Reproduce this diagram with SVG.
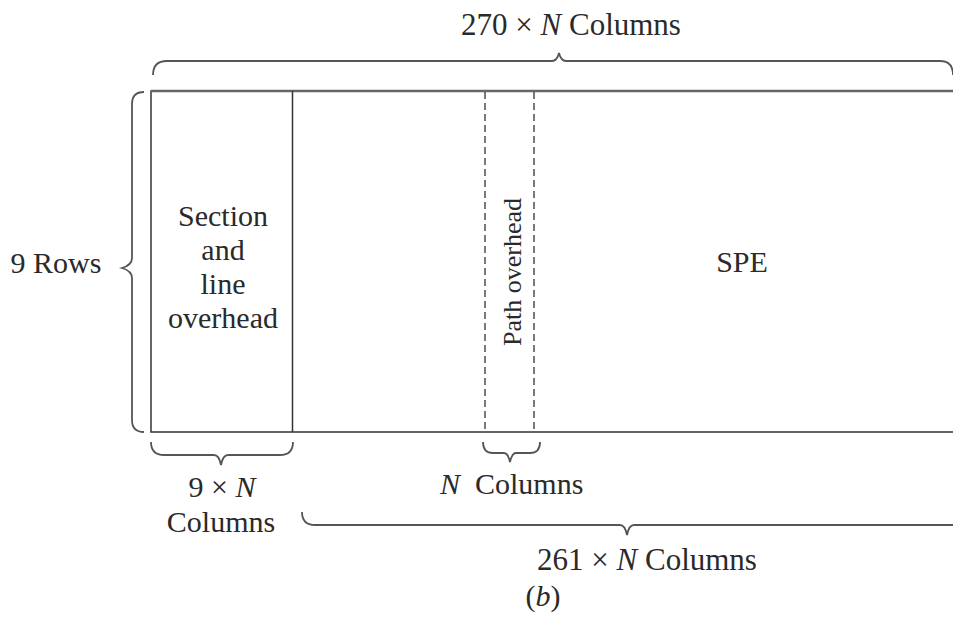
<svg xmlns="http://www.w3.org/2000/svg" width="953" height="622" viewBox="0 0 953 622">
<style>
text{font-family:"Liberation Serif","Times New Roman",serif;fill:#2a2a2a;font-size:30px}
.big{font-size:31px}
.small{font-size:26px}
.ln{fill:none;stroke:#333;stroke-width:1.5}
.br{fill:none;stroke:#555;stroke-width:1.8}
.dash{fill:none;stroke:#333;stroke-width:1.3;stroke-dasharray:7 4}
.it{font-style:italic}
</style>
<rect width="953" height="622" fill="#fff"/>
<g id="frame">
<path class="ln" d="M954,91 L151,91 L151,432 L954,432"/>
<line x1="151" y1="91" x2="953" y2="91" stroke="#666" stroke-width="2.5"/>
</g>
<g id="section-overhead">
<line class="ln" x1="292.5" y1="91" x2="292.5" y2="432"/>
<text x="223" y="226" text-anchor="middle">Section</text>
<text x="223" y="260" text-anchor="middle">and</text>
<text x="223" y="294" text-anchor="middle">line</text>
<text x="223" y="328" text-anchor="middle">overhead</text>
</g>
<g id="path-overhead">
<line class="dash" x1="485" y1="92" x2="485" y2="432"/>
<line class="dash" x1="534" y1="92" x2="534" y2="432"/>
<text class="small" transform="translate(521,272) rotate(-90)" text-anchor="middle">Path overhead</text>
</g>
<g id="spe">
<text x="742" y="272" text-anchor="middle">SPE</text>
</g>
<g id="braces">
<path class="br" d="M153,75 Q153,61 167,61 L552,61 Q557,61 559,53 Q561,61 566,61 L940,61 Q953,61 953,75"/>
<path class="br" d="M144,92 Q132,92 132,104 L132,258 Q132,265 122,268 Q132,271 132,278 L132,420 Q132,432 144,432"/>
<path class="br" d="M151,442 Q151,455 164,455 L214,455 Q219,455 221,465 Q223,455 228,455 L280,455 Q293,455 293,442"/>
<path class="br" d="M483,442 Q483,453 493,453 L504,453 Q508,453 510,462 Q512,453 516,453 L530,453 Q540,453 540,442"/>
<path class="br" d="M302,512 Q302,525 315,525 L620,525 Q625,525 627,535 Q629,525 634,525 L953,525"/>
</g>
<g id="labels">
<text class="big" x="571" y="35" text-anchor="middle">270 × <tspan class="it">N</tspan> Columns</text>
<text x="56" y="273" text-anchor="middle">9 Rows</text>
<text x="222" y="497" text-anchor="middle">9 × <tspan class="it">N</tspan></text>
<text x="221" y="532" text-anchor="middle">Columns</text>
<text x="440" y="494"><tspan class="it">N</tspan><tspan x="475">Columns</tspan></text>
<text class="big" x="647" y="570" text-anchor="middle">261 × <tspan class="it">N</tspan> Columns</text>
<text x="543" y="606" text-anchor="middle">(<tspan class="it">b</tspan>)</text>
</g>
</svg>
